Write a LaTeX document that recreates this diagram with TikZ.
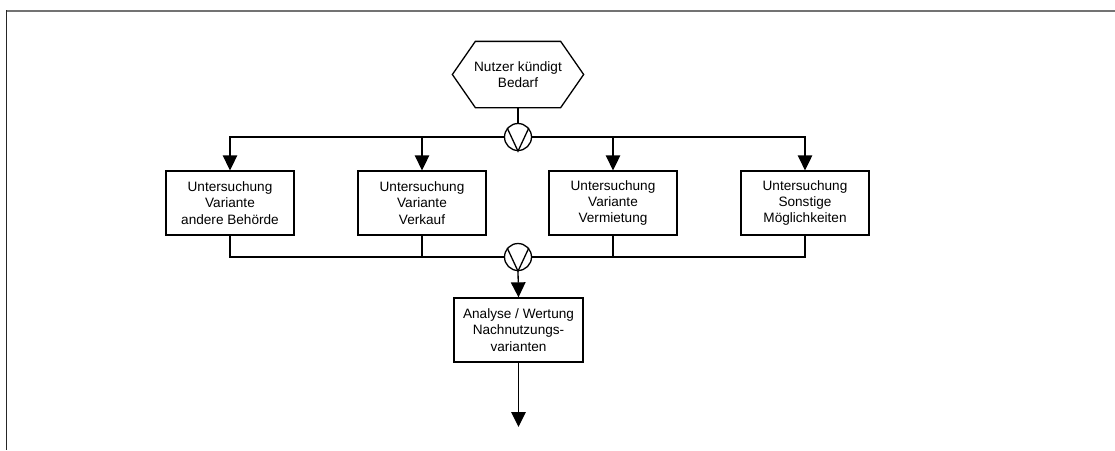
\documentclass[tikz,border=0pt]{standalone}
\usepackage{fontspec}
\setmainfont{Liberation Sans}
\usetikzlibrary{arrows.meta}
\begin{document}
\begin{tikzpicture}[x=1pt,y=-1pt,
  line width=1.3pt,
  every node/.style={font=\fontsize{13.6}{16.4}\selectfont, align=center},
  taskbox/.style={draw, minimum width=128pt, minimum height=64pt, inner sep=0pt},
  hexbox/.style={minimum width=130pt, minimum height=65pt, inner sep=0pt},
  xorop/.style={draw, circle, minimum size=27pt, inner sep=0pt},
  flow/.style={-{Triangle[length=15pt,width=14.5pt]}}
]
\useasboundingbox (0,0) rectangle (1115,450);

% page frame
\draw[black!55, line width=1.6pt] (1115,11) -- (6.5,11);
\draw[black!85, line width=1.4pt] (6.5,10.2) -- (6.5,450);

% start event
\node[hexbox] (need) at (518,74.5) {Nutzer kündigt\\Bedarf};
\draw (need.west) -- ([xshift=23pt]need.north west) -- ([xshift=-23pt]need.north east)
  -- (need.east) -- ([xshift=-23pt]need.south east) -- ([xshift=23pt]need.south west) -- cycle;

% split / join operators
\node[xorop] (xa) at (518,137) {};
\draw (xa.140) -- (xa.south) -- (xa.40);
\node[xorop] (xb) at (518,257) {};
\draw (xb.140) -- (xb.south) -- (xb.40);

% parallel investigations
\node[taskbox] (b1) at (230,203) {Untersuchung\\Variante\\andere Behörde};
\node[taskbox] (b2) at (422,203) {Untersuchung\\Variante\\Verkauf};
\node[taskbox] (b3) at (613,203) {Untersuchung\\Variante\\Vermietung};
\node[taskbox] (b4) at (805,203) {Untersuchung\\Sonstige\\Möglichkeiten};

% evaluation
\node[taskbox, minimum width=129pt] (b5) at (518.5,330) {Analyse / Wertung\\Nachnutzungs-\\varianten};
\coordinate (out) at (518.5,427);

% connectors
\draw (need.south) -- (xa.north);
\draw[flow] (xa.west) -| (b1.north);
\draw[flow] (xa.west) -| (b2.north);
\draw[flow] (xa.east) -| (b3.north);
\draw[flow] (xa.east) -| (b4.north);
\draw (b1.south) |- (xb.west);
\draw (b2.south) |- (xb.west);
\draw (b3.south) |- (xb.east);
\draw (b4.south) |- (xb.east);
\draw[flow] (xb.south) -- (b5.north);
\draw[flow] (b5.south) -- (out);
\end{tikzpicture}
\end{document}
